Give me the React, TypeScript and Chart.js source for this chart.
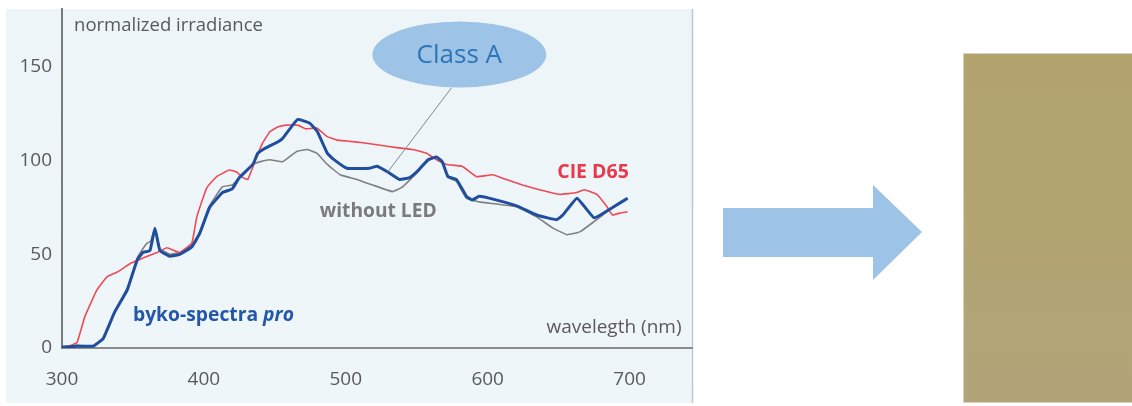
import React, { useEffect, useRef } from "react";
import { Chart, registerables } from "chart.js";

Chart.register(...registerables);

// Wavelength samples (nm) and normalized irradiance for each spectrum
const bykoNm = [300, 310, 322, 329, 337, 346, 353, 357, 362, 365.5, 369, 376, 383, 391.5, 397, 404, 413, 420, 425, 434.5, 438, 444, 452, 455.6, 466, 474.6, 480, 487, 491, 500.7, 517, 522, 529.6, 538, 545, 550, 558, 564, 568, 572, 578, 585, 589, 594, 601, 620, 634.5, 648.6, 653, 663, 675, 688, 698.6];
const bykoVal = [0.5, 1, 1, 5, 19, 31, 47, 51, 52, 64, 52, 49, 50, 54, 61, 75, 83, 85, 91, 98, 104, 107, 110, 112, 122, 120, 115.5, 104, 101, 96, 96, 97, 94, 90, 91, 94, 100.5, 102, 99.5, 91.5, 90, 81, 79, 81, 80, 76, 71, 68.5, 71, 80, 69.5, 75, 80];

const noLedNm = [300, 310, 322, 329, 337, 346, 353, 357, 360, 362.5, 365.5, 369, 376, 383, 391.5, 397, 404, 413, 420, 425, 434.5, 440, 446.5, 455.6, 465.5, 473, 479.6, 487, 496, 507.7, 519, 533, 540, 550, 558, 564, 568, 572, 578, 585, 594, 620, 634.5, 646, 656, 665, 675, 688, 698.6];
const noLedVal = [0.5, 1.5, 1, 5, 19, 32, 48, 53, 56, 57, 64, 53, 50, 51, 55, 62, 76, 86, 87, 91, 98, 99.5, 100.5, 99.5, 105, 106, 104, 98, 92.5, 90, 87, 83.5, 86, 93.5, 100, 102, 99, 91, 89, 80, 78, 75.5, 70, 64, 60.5, 62, 67.5, 75, 80];

const d65Nm = [300, 305, 310.6, 316, 324.6, 331.7, 339, 349, 357, 367, 374, 383, 391.5, 395, 402, 409, 418, 423, 427.5, 431, 437, 441.5, 446.5, 452, 458, 466, 472, 479.6, 486.6, 493.7, 500.7, 512, 522, 536, 547, 557, 564, 571, 582, 592, 603.5, 613, 624.6, 636.6, 650.7, 662.7, 668, 677, 684, 688, 693, 698.6];
const d65Val = [0.5, 1, 3, 16.5, 31, 38, 40.6, 45.5, 48, 51, 53.5, 51, 56, 70, 85.5, 91.5, 95, 94, 91, 90, 101.6, 109.6, 115.5, 118, 119, 119, 117, 117.5, 113, 111, 110.5, 109.6, 108.5, 107, 106, 104, 100.5, 98, 97, 91.5, 92.5, 90, 87, 84.5, 82, 83, 84.5, 82, 75.5, 71, 72, 72.7];

const xTicks = [300, 400, 500, 600, 700];
const yTicks = [0, 50, 100, 150];

const FONT = "'Open Sans', 'Noto Sans', sans-serif";
const GREY_TEXT = "#595959";

const toPoints = (xs: number[], ys: number[]) => xs.map((x, i) => ({ x, y: ys[i] }));

// Panel background, axis labels, series captions, the "Class A" callout and the arrow/sample swatch
const decorations = {
  id: "decorations",
  beforeDraw(chart: any) {
    const ctx = chart.ctx as CanvasRenderingContext2D;
    ctx.save();
    ctx.fillStyle = "#ffffff";
    ctx.fillRect(0, 0, chart.width, chart.height);
    const grad = ctx.createLinearGradient(0, 9, 0, 403);
    grad.addColorStop(0, "#edf5f9");
    grad.addColorStop(1, "#eff6fa");
    ctx.fillStyle = grad;
    ctx.fillRect(6, 9, 686, 394);
    ctx.strokeStyle = "#c4c7ca";
    ctx.lineWidth = 1.5;
    ctx.beginPath();
    ctx.moveTo(692.5, 9);
    ctx.lineTo(692.5, 403);
    ctx.stroke();
    ctx.restore();
  },
  afterDraw(chart: any) {
    const ctx = chart.ctx as CanvasRenderingContext2D;
    const xs = chart.scales.x;
    const ys = chart.scales.y;
    const px = (v: number) => xs.getPixelForValue(v);
    const py = (v: number) => ys.getPixelForValue(v);
    ctx.save();
    ctx.textBaseline = "middle";

    // y tick labels
    ctx.fillStyle = GREY_TEXT;
    ctx.font = `19px ${FONT}`;
    ctx.textAlign = "right";
    yTicks.forEach((v) => ctx.fillText(String(v), xs.left - 10, py(v)));

    // axis titles
    ctx.font = `18.5px ${FONT}`;
    ctx.textAlign = "left";
    ctx.fillText("normalized irradiance", px(308.5), py(172));
    ctx.textAlign = "right";
    ctx.font = `19px ${FONT}`;
    ctx.fillText("wavelegth (nm)", px(736.6), py(10.7));

    // series captions
    ctx.textAlign = "left";
    ctx.font = `bold 19.5px ${FONT}`;
    ctx.fillStyle = "#e8394a";
    ctx.fillText("CIE D65", px(649), py(94));
    ctx.fillStyle = "#7a7a7a";
    ctx.font = `bold 19.2px ${FONT}`;
    ctx.fillText("without LED", px(481.7), py(72.7));
    ctx.fillStyle = "#2457a8";
    ctx.font = `bold 19.3px ${FONT}`;
    const bx = px(350);
    const by = py(17.6);
    const part1 = "byko-spectra ";
    ctx.fillText(part1, bx, by);
    const w1 = ctx.measureText(part1).width;
    ctx.font = `italic bold 19.3px ${FONT}`;
    ctx.fillText("pro", bx + w1, by);

    // callout leader
    ctx.strokeStyle = "#7d8895";
    ctx.lineWidth = 1;
    ctx.beginPath();
    ctx.moveTo(px(574.6), py(139));
    ctx.lineTo(px(529.6), py(94));
    ctx.stroke();

    // callout bubble
    const cx = px(580);
    const cy = py(156.7);
    ctx.fillStyle = "#9dc3e6";
    ctx.beginPath();
    ctx.ellipse(cx, cy, 87, 33, 0, 0, Math.PI * 2);
    ctx.fill();
    ctx.fillStyle = "#2e75b6";
    ctx.font = `26px ${FONT}`;
    ctx.textAlign = "center";
    ctx.fillText("Class A", cx, cy + 1);

    // arrow
    ctx.fillStyle = "#9dc3e6";
    ctx.beginPath();
    ctx.moveTo(723, 208);
    ctx.lineTo(873, 208);
    ctx.lineTo(873, 185);
    ctx.lineTo(922, 232);
    ctx.lineTo(873, 280);
    ctx.lineTo(873, 257);
    ctx.lineTo(723, 257);
    ctx.closePath();
    ctx.fill();

    // colour sample
    const sg = ctx.createLinearGradient(0, 53, 0, 403);
    sg.addColorStop(0, "#b2a36d");
    sg.addColorStop(0.5, "#b2a572");
    sg.addColorStop(1, "#b1a479");
    ctx.fillStyle = sg;
    ctx.fillRect(963, 53, 169, 350);
    ctx.strokeStyle = "#d8d3c0";
    ctx.lineWidth = 1;
    ctx.strokeRect(963.5, 53.5, 170, 349);
    ctx.restore();
  },
};

export default function App() {
  const ref = useRef<HTMLCanvasElement | null>(null);

  useEffect(() => {
    if (!ref.current) return;
    const chart = new Chart(ref.current, {
      type: "line",
      data: {
        datasets: [
          {
            label: "byko-spectra pro",
            data: toPoints(bykoNm, bykoVal),
            borderColor: "#1f4e9e",
            borderWidth: 3,
            pointRadius: 0,
            tension: 0.1,
            order: 0,
          },
          {
            label: "CIE D65",
            data: toPoints(d65Nm, d65Val),
            borderColor: "#ee4a55",
            borderWidth: 1.6,
            pointRadius: 0,
            tension: 0.1,
            order: 1,
          },
          {
            label: "without LED",
            data: toPoints(noLedNm, noLedVal),
            borderColor: "#808080",
            borderWidth: 1.6,
            pointRadius: 0,
            tension: 0.1,
            order: 2,
          },
        ],
      },
      options: {
        responsive: false,
        animation: false,
        layout: { padding: { left: 0, top: 9, right: 440, bottom: 0 } },
        plugins: { legend: { display: false }, tooltip: { enabled: false } },
        scales: {
          x: {
            type: "linear",
            min: 300,
            max: 744,
            afterBuildTicks: (s: any) => {
              s.ticks = xTicks.map((value) => ({ value }));
            },
            afterFit: (s: any) => {
              s.height = 58;
            },
            grid: { display: false },
            border: { display: true, color: "#8c8c8c", width: 2 },
            ticks: {
              color: GREY_TEXT,
              font: { family: FONT, size: 19 },
              padding: 12,
              maxRotation: 0,
            },
          },
          y: {
            type: "linear",
            min: 0,
            max: 181,
            afterBuildTicks: (s: any) => {
              s.ticks = yTicks.map((value) => ({ value }));
            },
            afterFit: (s: any) => {
              s.width = 62;
            },
            grid: { display: false },
            border: { display: true, color: "#7a7a7a", width: 2 },
            ticks: { display: false },
          },
        },
      },
      plugins: [decorations],
    });
    return () => chart.destroy();
  }, []);

  return (
    <div style={{ position: "absolute", left: 0, top: 0, width: 1132, height: 406 }}>
      <canvas ref={ref} width={1132} height={406} />
    </div>
  );
}
